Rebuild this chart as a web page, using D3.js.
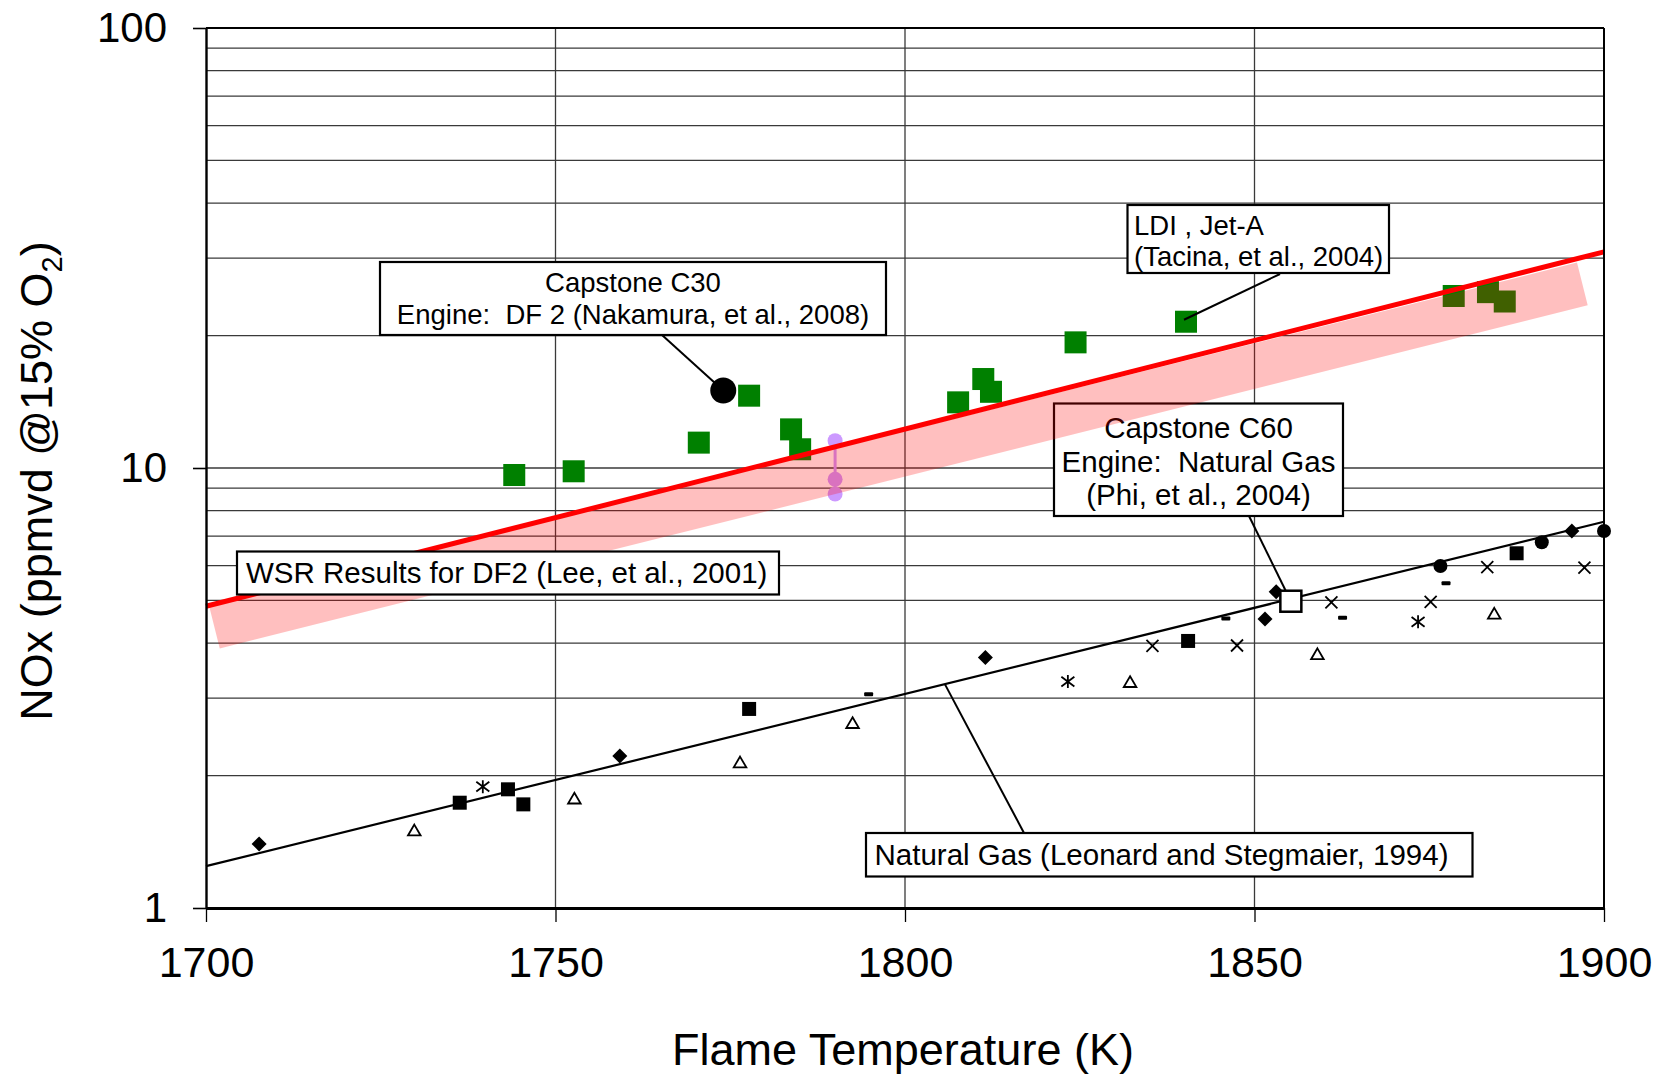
<!DOCTYPE html>
<html>
<head>
<meta charset="utf-8">
<script src="https://cdn.jsdelivr.net/npm/d3@7"></script>
<style>
  html, body { margin: 0; padding: 0; background: #fff; }
  svg { display: block; }
  text { font-family: "Liberation Sans", Arial, Helvetica, sans-serif; fill: #000; }
</style>
</head>
<body>
<svg id="chart" width="1660" height="1078"></svg>
<script>
// ---- axis ticks and grid ----
const xTickValues = [1700, 1750, 1800, 1850, 1900];
const yTickValues = [1, 10, 100];
const xGridValues = [1750, 1800, 1850];
const yGridValues = [2, 3, 4, 5, 6, 7, 8, 9, 10, 20, 30, 40, 50, 60, 70, 80, 90];

// ---- LDI, Jet-A (Tacina, et al., 2004) ----
const ldiTemp = [1744.1, 1752.6, 1770.5, 1777.7, 1783.7, 1785.0, 1807.6, 1811.2, 1812.3, 1824.4, 1840.2, 1878.5, 1883.4, 1885.8];
const ldiNox  = [9.64, 9.83, 11.42, 14.6, 12.24, 11.03, 14.1, 15.93, 14.9, 19.3, 21.5, 24.6, 25.1, 23.9];

// ---- Capstone engines ----
const c30Temp = [1774.0];
const c30Nox  = [15.0];
const c60Temp = [1855.2];
const c60Nox  = [4.98];

// ---- WSR results for DF2 (Lee, et al., 2001) ----
const wsrTemp = [1790, 1790, 1790];
const wsrNox  = [11.54, 9.43, 8.73];
const wsrFitTemp  = [1700, 1900];
const wsrFitNox   = [4.85, 31.0];
const wsrBandTemp = [1701.2, 1896.9];
const wsrBandNox  = [4.35, 26.2];

// ---- Natural gas (Leonard and Stegmaier, 1994) ----
const ngFitTemp = [1700, 1900];
const ngFitNox  = [1.245, 7.55];
const ngDiamondTemp  = [1707.6, 1759.2, 1811.5, 1851.5, 1853.1, 1895.4];
const ngDiamondNox   = [1.398, 2.216, 3.71, 4.54, 5.23, 7.19];
const ngSquareTemp   = [1736.3, 1743.2, 1745.4, 1777.7, 1840.5, 1887.5];
const ngSquareNox    = [1.735, 1.861, 1.72, 2.834, 4.045, 6.40];
const ngTriangleTemp = [1729.8, 1752.7, 1776.4, 1792.5, 1832.2, 1859.0, 1884.3];
const ngTriangleNox  = [1.499, 1.772, 2.14, 2.63, 3.26, 3.77, 4.66];
const ngStarTemp     = [1739.6, 1823.3, 1873.4];
const ngStarNox      = [1.887, 3.27, 4.47];
const ngCrossTemp    = [1835.4, 1847.5, 1861.0, 1875.2, 1883.3, 1897.2];
const ngCrossNox     = [3.94, 3.95, 4.95, 4.96, 5.95, 5.94];
const ngDashTemp     = [1794.8, 1845.9, 1862.6, 1877.4];
const ngDashNox      = [3.06, 4.55, 4.57, 5.47];
const ngCircleTemp   = [1876.6, 1891.1, 1900.0];
const ngCircleNox    = [5.99, 6.78, 7.19];

// ---- text ----
const xTitle = "Flame Temperature (K)";
const yTitleMain = "NOx (ppmvd @15% O";
const yTitleSub = "2";
const yTitleEnd = ")";
const c30Label = ["Capstone C30", "Engine:  DF 2 (Nakamura, et al., 2008)"];
const ldiLabel = ["LDI , Jet-A", "(Tacina, et al., 2004)"];
const c60Label = ["Capstone C60", "Engine:  Natural Gas", "(Phi, et al., 2004)"];
const wsrLabel = ["WSR Results for DF2 (Lee, et al., 2001)"];
const ngLabel  = ["Natural Gas (Leonard and Stegmaier, 1994)"];

// ---------------------------------------------------------------
const W = 1660, H = 1078;
const margin = { top: 28, right: 56, bottom: 170, left: 206 };
const x = d3.scaleLinear().domain([1700, 1900]).range([margin.left, W - margin.right]);
const y = d3.scaleLog().domain([1, 100]).range([H - margin.bottom, margin.top]);

const svg = d3.select("#chart");
const pts = (ts, vs) => ts.map((t, i) => ({ t, v: vs[i] }));
const line = d3.line().x(d => x(d.t)).y(d => y(d.v));

// grid
const grid = svg.append("g");
grid.selectAll(".hg").data(yGridValues).join("line")
  .attr("x1", x(1700)).attr("x2", x(1900))
  .attr("y1", d => y(d)).attr("y2", d => y(d))
  .attr("stroke", "#3a3a3a").attr("stroke-width", 1.3);
grid.selectAll(".vg").data(xGridValues).join("line")
  .attr("x1", d => x(d)).attr("x2", d => x(d))
  .attr("y1", y(1)).attr("y2", y(100))
  .attr("stroke", "#3a3a3a").attr("stroke-width", 1.3);

// natural gas correlation line
svg.append("path").datum(pts(ngFitTemp, ngFitNox))
  .attr("d", line).attr("fill", "none").attr("stroke", "#000").attr("stroke-width", 2.2);

// marker shapes
const shape = {
  diamond: s => `M0,${-s}L${s},0L0,${s}L${-s},0Z`,
  square: s => `M${-s},${-s}H${s}V${s}H${-s}Z`,
  triangle: s => `M0,${-s}L${s * 1.05},${s * 0.8}L${-s * 1.05},${s * 0.8}Z`,
  cross: s => `M${-s},${-s}L${s},${s}M${-s},${s}L${s},${-s}`,
  star: s => `M0,${-s}V${s}M${-s},${-s * 0.75}L${s},${s * 0.75}M${-s},${s * 0.75}L${s},${-s * 0.75}`
};

function markers(ts, vs, d, fill, stroke, sw) {
  svg.append("g").selectAll("path").data(pts(ts, vs)).join("path")
    .attr("transform", p => `translate(${x(p.t)},${y(p.v)})`)
    .attr("d", d)
    .attr("fill", fill).attr("stroke", stroke).attr("stroke-width", sw);
}

// leader lines under their markers
const ngLeaderT = 1805.7;
const ngLeaderV = Math.exp(Math.log(ngFitNox[0]) + (ngLeaderT - ngFitTemp[0]) / (ngFitTemp[1] - ngFitTemp[0]) * (Math.log(ngFitNox[1]) - Math.log(ngFitNox[0])));
const leaders = svg.append("g").attr("stroke", "#000").attr("stroke-width", 2);
leaders.append("line").attr("x1", 1024).attr("y1", 833).attr("x2", x(ngLeaderT)).attr("y2", y(ngLeaderV));
leaders.append("line").attr("x1", 1249).attr("y1", 516).attr("x2", x(c60Temp[0])).attr("y2", y(c60Nox[0]));
leaders.append("line").attr("x1", 662).attr("y1", 335).attr("x2", x(c30Temp[0])).attr("y2", y(c30Nox[0]));

// natural gas data
markers(ngDiamondTemp, ngDiamondNox, shape.diamond(7.5), "#000", "none", 0);
markers(ngSquareTemp, ngSquareNox, shape.square(7), "#000", "none", 0);
markers(ngTriangleTemp, ngTriangleNox, shape.triangle(6), "#fff", "#000", 1.8);
markers(ngStarTemp, ngStarNox, shape.star(6.5), "none", "#000", 1.8);
markers(ngCrossTemp, ngCrossNox, shape.cross(6), "none", "#000", 1.8);
svg.append("g").selectAll("rect").data(pts(ngDashTemp, ngDashNox)).join("rect")
  .attr("x", p => x(p.t) - 4.5).attr("y", p => y(p.v) - 2)
  .attr("width", 9).attr("height", 4).attr("rx", 1).attr("fill", "#000");
svg.append("g").selectAll("circle").data(pts(ngCircleTemp, ngCircleNox)).join("circle")
  .attr("cx", p => x(p.t)).attr("cy", p => y(p.v)).attr("r", 7).attr("fill", "#000");

// WSR data points
const wsr = pts(wsrTemp, wsrNox);
svg.append("path").datum([wsr[0], wsr[wsr.length - 1]])
  .attr("d", line).attr("stroke", "#cc99ff").attr("stroke-width", 3).attr("fill", "none");
svg.append("g").selectAll("circle").data(wsr).join("circle")
  .attr("cx", p => x(p.t)).attr("cy", p => y(p.v)).attr("r", 7.5).attr("fill", "#cc99ff");

// LDI data
svg.append("g").selectAll("rect").data(pts(ldiTemp, ldiNox)).join("rect")
  .attr("x", p => x(p.t) - 11).attr("y", p => y(p.v) - 11)
  .attr("width", 22).attr("height", 22).attr("fill", "#008000");

// text boxes
function textBox(lines, b) {
  const g = svg.append("g");
  g.append("rect").attr("x", b.x).attr("y", b.y).attr("width", b.w).attr("height", b.h)
    .attr("fill", "#fff").attr("stroke", "#000").attr("stroke-width", 2.2);
  g.selectAll("text").data(lines).join("text")
    .attr("x", b.tx).attr("y", (d, i) => b.base[i])
    .attr("text-anchor", b.anchor).attr("font-size", b.size)
    .style("white-space", "pre")
    .text(d => d);
  return g;
}

textBox(c60Label, { x: 1054, y: 403.5, w: 289, h: 112.5, tx: 1198.5, anchor: "middle", base: [437.5, 471.5, 505], size: 29.5 });

// WSR uncertainty band and correlation
svg.append("path").datum(pts(wsrBandTemp, wsrBandNox))
  .attr("d", line).attr("fill", "none")
  .attr("stroke", "#ff0000").attr("stroke-opacity", 0.25)
  .attr("stroke-width", 44).attr("stroke-linecap", "butt");
svg.append("path").datum(pts(wsrFitTemp, wsrFitNox))
  .attr("d", line).attr("fill", "none").attr("stroke", "#ff0000").attr("stroke-width", 5);

// axes and frame
const yAxis = d3.axisLeft(y).tickValues(yTickValues).tickFormat(d3.format("d"))
  .tickSize(13).tickSizeOuter(0).tickPadding(26);
const gy = svg.append("g").attr("transform", `translate(${x(1700)},0)`).call(yAxis);
gy.attr("font-size", 42).attr("font-family", null);
gy.select(".domain").attr("stroke-width", 2.4);
gy.selectAll(".tick line").attr("stroke-width", 1.6);

const xAxis = d3.axisBottom(x).tickValues(xTickValues).tickFormat(d3.format("d"))
  .tickSize(14).tickSizeOuter(0).tickPadding(24);
const gx = svg.append("g").attr("transform", `translate(0,${y(1)})`).call(xAxis);
gx.attr("font-size", 43).attr("font-family", null);
gx.select(".domain").attr("stroke-width", 3);
gx.selectAll(".tick line").attr("stroke-width", 1.3);

svg.append("line").attr("x1", x(1700)).attr("x2", x(1900)).attr("y1", y(100)).attr("y2", y(100))
  .attr("stroke", "#000").attr("stroke-width", 2);
svg.append("line").attr("x1", x(1900)).attr("x2", x(1900)).attr("y1", y(100)).attr("y2", y(1))
  .attr("stroke", "#000").attr("stroke-width", 2);

// axis titles
svg.append("text").attr("x", 903).attr("y", 1065).attr("text-anchor", "middle")
  .attr("font-size", 45).text(xTitle);
const yt = svg.append("text").attr("transform", "translate(52,481) rotate(-90)")
  .attr("text-anchor", "middle").attr("font-size", 45);
yt.append("tspan").text(yTitleMain);
yt.append("tspan").attr("font-size", 29).attr("dy", 10).text(yTitleSub);
yt.append("tspan").attr("font-size", 45).attr("dy", -10).text(yTitleEnd);

// remaining text boxes
textBox(c30Label, { x: 380, y: 262, w: 506, h: 73, tx: 633, anchor: "middle", base: [292, 323.5], size: 27.5 });
textBox(ldiLabel, { x: 1127.5, y: 205, w: 261.5, h: 68, tx: 1134, anchor: "start", base: [234.5, 265.5], size: 27.5 });
textBox(wsrLabel, { x: 237, y: 551.5, w: 542, h: 43, tx: 246, anchor: "start", base: [583], size: 29.5 });
textBox(ngLabel, { x: 866, y: 833, w: 606.5, h: 43.5, tx: 874.5, anchor: "start", base: [865], size: 29.5 });

// LDI leader drawn over its marker
svg.append("line").attr("x1", 1280).attr("y1", 274)
  .attr("x2", x(ldiTemp[10]) - 2).attr("y2", y(ldiNox[10]) - 2)
  .attr("stroke", "#000").attr("stroke-width", 2);

// Capstone markers
svg.append("circle").attr("cx", x(c30Temp[0])).attr("cy", y(c30Nox[0])).attr("r", 13).attr("fill", "#000");
svg.append("rect").attr("x", x(c60Temp[0]) - 10.5).attr("y", y(c60Nox[0]) - 10.5)
  .attr("width", 21).attr("height", 21).attr("fill", "#fff").attr("stroke", "#000").attr("stroke-width", 2.5);
</script>
</body>
</html>
